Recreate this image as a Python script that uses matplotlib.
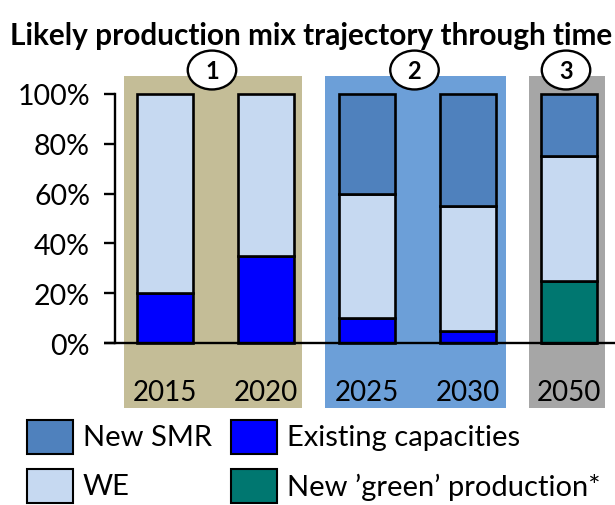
import matplotlib
matplotlib.use("Agg")
import matplotlib.pyplot as plt
from matplotlib.patches import Ellipse, Rectangle
import numpy as np

plt.rcParams['font.family'] = ['Lato', 'DejaVu Sans']

# data
years = ['2015', '2020', '2025', '2030', '2050']
existing = [20, 35, 10, 5, 0]
green = [0, 0, 0, 0, 25]
we = [80, 65, 50, 50, 50]
smr = [0, 0, 40, 45, 25]

phases = ['1', '2', '3']
phase_spans = [(-0.41, 1.36), (1.58, 3.38), (3.60, 4.36)]
phase_colors = ['#C4BD97', '#6C9FD8', '#A6A6A6']

legend_labels = ['New SMR', 'Existing capacities', 'WE', 'New \u2019green\u2019 production*']

c_smr = '#4F81BD'
c_we = '#C6D9F1'
c_exist = '#0000FF'
c_green = '#007770'

fig = plt.figure(figsize=(6.15, 5.06), dpi=100)
ax = fig.add_axes([104 / 615, 97 / 506, 511 / 615, 332 / 506])

x = np.arange(len(years))
for (a, b), col in zip(phase_spans, phase_colors):
    ax.axvspan(a, b, color=col, zorder=0, lw=0)

w = 0.56
kw = dict(width=w, edgecolor='black', linewidth=1.9, zorder=2)
base = np.zeros(len(years))
ax.bar(x, existing, bottom=base, color=c_exist, **kw)
base += existing
# green only shows up in 2050
gmask = np.array(green) > 0
ax.bar(x[gmask], np.array(green)[gmask], bottom=base[gmask], color=c_green, **kw)
base += green
ax.bar(x, we, bottom=base, color=c_we, **kw)
base += we
smask = np.array(smr) > 0
ax.bar(x[smask], np.array(smr)[smask], bottom=base[smask], color=c_smr, **kw)

ax.set_xlim(-0.604, 4.455)
ax.set_ylim(-26, 107.2)
ax.axhline(0, color='black', lw=1.7, zorder=3)

for s in ['top', 'right', 'bottom']:
    ax.spines[s].set_visible(False)
ax.spines['left'].set_position(('data', -0.495))
ax.spines['left'].set_bounds(0, 100)
ax.spines['left'].set_linewidth(1.7)
ax.set_yticks(range(0, 101, 20))
ax.set_yticklabels([f'{v}%' for v in range(0, 101, 20)], fontsize=20.5)
ax.tick_params(axis='y', length=8, width=1.7, pad=10)
ax.set_xticks([])

for xi, yr in zip(x, years):
    ax.text(xi, -19.5, yr, ha='center', va='center', fontsize=20)

for (a, b), lab in zip(phase_spans, phases):
    cx = (a + b) / 2 - 0.01
    e = Ellipse((cx, 109.6), 0.48, 15.6, facecolor='white', edgecolor='black',
                lw=1.7, clip_on=False, zorder=4)
    ax.add_patch(e)
    ax.text(cx, 109.6, lab, ha='center', va='center', fontsize=17,
            fontweight='bold', zorder=5, clip_on=False)

fig.text(311 / 615, 1 - 36 / 506, 'Likely production mix trajectory through time',
         ha='center', va='center', fontsize=21.4, fontweight='bold')

# legend drawn by hand
leg_colors = [c_smr, c_exist, c_we, c_green]
col_x = [27, 231]
row_y = [438, 487]
for i, (lab, col) in enumerate(zip(legend_labels, leg_colors)):
    px = col_x[i % 2]
    py = row_y[i // 2]
    fig.add_artist(Rectangle((px / 615, 1 - (py + 17) / 506), 46 / 615, 34 / 506,
                             facecolor=col, edgecolor='black', lw=1.5,
                             transform=fig.transFigure))
    fig.text((px + 56) / 615, 1 - py / 506, lab, ha='left', va='center', fontsize=21)

fig.savefig('out.png', dpi=100)
